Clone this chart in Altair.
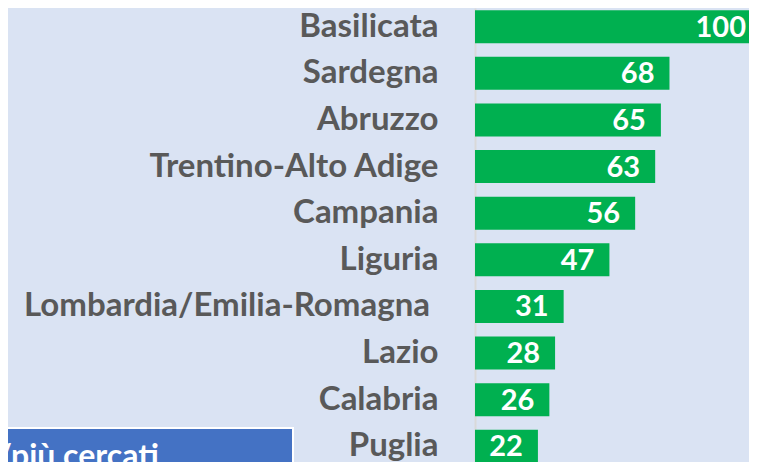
import altair as alt
import pandas as pd

regions = ["Basilicata", "Sardegna", "Abruzzo", "Trentino-Alto Adige", "Campania",
           "Liguria", "Lombardia/Emilia-Romagna", "Lazio", "Calabria", "Puglia"]
values = [100, 68, 65, 63, 56, 47, 31, 28, 26, 22]
box_text = ["/più cercati"]

df = pd.DataFrame({"region": regions, "value": values})
box = pd.DataFrame({"label": box_text})

FONT = "Lato"
SHIFTED = "Lombardia/Emilia-Romagna"

y_enc = alt.Y(
    "region:N",
    sort=regions,
    title=None,
    scale=alt.Scale(paddingInner=0.292, paddingOuter=0.047),
    axis=alt.Axis(
        ticks=False, tickSize=0, labelPadding=37,
        labelFont=FONT, labelFontSize=33, labelFontWeight="bold",
        labelColor="#595959", labelLimit=600,
        domainColor="#d9d9d9", domainWidth=2,
        labelExpr=f"datum.value == '{SHIFTED}' ? '' : datum.value",
    ),
)
x_enc = alt.X("value:Q", scale=alt.Scale(domain=[0, 100], range=[0, 286], nice=False),
              axis=None, title=None)

bars = alt.Chart(df).mark_bar(color="#00b050").encode(x=x_enc, y=y_enc)

labels = alt.Chart(df).mark_text(
    align="right", baseline="middle", dx=-15, dy=1,
    font=FONT, fontSize=29, fontWeight="bold", color="white",
).encode(x=x_enc, y=alt.Y("region:N", sort=regions), text="value:Q")

shifted_label = alt.Chart(df).transform_filter(
    alt.datum.region == SHIFTED
).mark_text(
    align="right", baseline="middle",
    font=FONT, fontSize=33, fontWeight="bold", color="#595959",
).encode(x=alt.value(-45), y=alt.Y("region:N", sort=regions), text="region:N")

box_rect = alt.Chart(box).mark_rect(
    color="#4472c4", stroke="white", strokeWidth=2
).encode(
    x=alt.value(-476), x2=alt.value(-182),
    y=alt.value(420), y2=alt.value(500),
)

box_label = alt.Chart(box).mark_text(
    align="left", baseline="alphabetic",
    font=FONT, fontSize=32, fontWeight="bold", color="white",
).encode(
    x=alt.value(-478), y=alt.value(459), text="label:N",
)

chart = alt.layer(bars, labels, shifted_label, box_rect, box_label).properties(
    width=274, height=457,
    autosize=alt.AutoSizeParams(type="none"),
    padding={"left": 467, "top": 0, "right": 0, "bottom": 10},
    background="#dae3f3",
).configure_view(stroke=None)

chart.save("out.html", embed_options={"renderer": "svg", "actions": False})
